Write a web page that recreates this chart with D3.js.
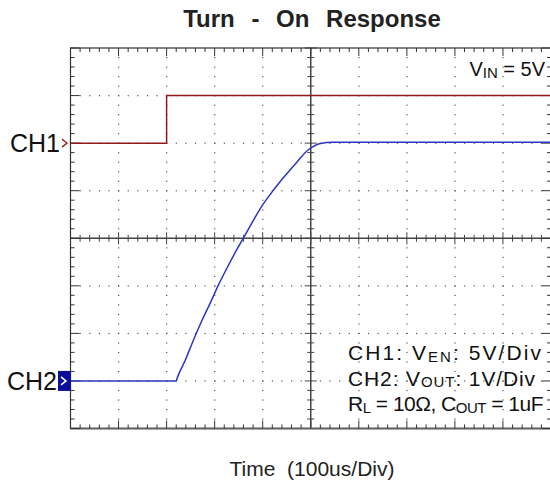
<!DOCTYPE html>
<html>
<head>
<meta charset="utf-8">
<script src="https://cdn.jsdelivr.net/npm/d3@7"></script>
<style>
  body { margin: 0; background: #fff; }
  svg { display: block; font-family: "Liberation Sans", Arial, sans-serif; }
</style>
</head>
<body>
<svg id="chart" width="550" height="485"></svg>
<script>
// scope settings
const title = "Turn - On Response";
const xLabel = "Time  (100us/Div)";
const ch1VoltsPerDiv = 5;
const ch2VoltsPerDiv = 1;
const ch1RefDiv = 2;   // CH1 ground marker, divisions above centre
const ch2RefDiv = -3;  // CH2 ground marker

// CH1: V_EN (time in divisions, volts)
const ch1Time = [0, 2.0, 2.0, 10];
const ch1Volts = [0, 0, 5.0, 5.0];

// CH2: V_OUT (time in divisions, volts)
const ch2Time = [0, 2.2, 2.22, 2.39, 2.56, 2.74, 2.91, 3.08, 3.26, 3.46, 3.63, 3.83, 4.0, 4.2, 4.43, 4.71, 4.95, 5.09, 5.2, 5.46, 10];
const ch2Volts = [0, 0, 0.06, 0.44, 0.86, 1.28, 1.64, 2.02, 2.38, 2.76, 3.06, 3.42, 3.7, 3.98, 4.27, 4.6, 4.86, 4.95, 4.99, 5.02, 5.02];

const svg = d3.select("#chart");

const x = d3.scaleLinear().domain([0, 10]).range([70.5, 551]);
const yDiv = d3.scaleLinear().domain([-4, 4]).range([428.5, 48]);
const y1 = v => yDiv(ch1RefDiv + v / ch1VoltsPerDiv);
const y2 = v => yDiv(ch2RefDiv + v / ch2VoltsPerDiv);

const minorX = d3.range(0, 10.01, 0.2);
const minorY = d3.range(-4, 4.01, 0.2);

// dotted graticule
const grid = svg.append("g").attr("fill", "#555");
d3.range(1, 10).filter(d => d !== 5).forEach(function(d) {
  grid.selectAll(null)
    .data(minorY.slice(1, -1))
    .join("rect")
    .attr("x", x(d) - 0.5).attr("y", v => yDiv(v) - 0.5)
    .attr("width", 1.2).attr("height", 1.2);
});
d3.range(-3, 4).filter(d => d !== 0).forEach(function(d) {
  grid.selectAll(null)
    .data(minorX.slice(1, -1))
    .join("rect")
    .attr("x", v => x(v) - 0.5).attr("y", yDiv(d) - 0.5)
    .attr("width", 1.2).attr("height", 1.2);
});

// centre axes with ticks
const axes = svg.append("g").attr("stroke", "#444").attr("fill", "none");
axes.append("line").attr("x1", x(5)).attr("x2", x(5)).attr("y1", yDiv(-4)).attr("y2", yDiv(4)).attr("stroke-width", 1.5);
axes.append("line").attr("x1", x(0)).attr("x2", x(10)).attr("y1", yDiv(0)).attr("y2", yDiv(0)).attr("stroke-width", 1.5);
const isMajor = v => Math.abs(v - Math.round(v)) < 0.01;
axes.selectAll(null).data(minorY).join("line")
  .attr("x1", v => x(5) - (isMajor(v) ? 6 : 3.5))
  .attr("x2", v => x(5) + (isMajor(v) ? 6 : 3.5))
  .attr("y1", v => yDiv(v)).attr("y2", v => yDiv(v));
axes.selectAll(null).data(minorX).join("line")
  .attr("y1", v => yDiv(0) - (isMajor(v) ? 6 : 3.5))
  .attr("y2", v => yDiv(0) + (isMajor(v) ? 6 : 3.5))
  .attr("x1", v => x(v)).attr("x2", v => x(v));

// border with inward ticks
const border = svg.append("g").attr("stroke", "#333").attr("fill", "none");
border.append("rect")
  .attr("x", x(0)).attr("y", yDiv(4))
  .attr("width", x(10) - x(0)).attr("height", yDiv(-4) - yDiv(4))
  .attr("stroke-width", 1.2);
border.append("line").attr("x1", x(0)).attr("x2", x(10))
  .attr("y1", yDiv(-4)).attr("y2", yDiv(-4)).attr("stroke", "#666").attr("stroke-width", 2);
border.selectAll(null).data(minorX).join("line")
  .attr("x1", v => x(v)).attr("x2", v => x(v))
  .attr("y1", yDiv(4)).attr("y2", v => yDiv(4) + (isMajor(v) ? 8 : 4));
border.selectAll(null).data(minorX).join("line")
  .attr("x1", v => x(v)).attr("x2", v => x(v))
  .attr("y1", yDiv(-4)).attr("y2", v => yDiv(-4) - (isMajor(v) ? 8 : 4));
border.selectAll(null).data(minorY).join("line")
  .attr("y1", v => yDiv(v)).attr("y2", v => yDiv(v))
  .attr("x1", x(0)).attr("x2", v => x(0) + (isMajor(v) ? 9 : 4));
border.selectAll(null).data(minorY).join("line")
  .attr("y1", v => yDiv(v)).attr("y2", v => yDiv(v))
  .attr("x1", x(10)).attr("x2", v => x(10) - (isMajor(v) ? 9 : 4));

// traces
const line1 = d3.line().x((d, i) => x(ch1Time[i])).y(d => y1(d));
const line2 = d3.line().curve(d3.curveMonotoneX).x((d, i) => x(ch2Time[i])).y(d => y2(d));
svg.append("path").datum(ch1Volts).attr("d", line1)
  .attr("fill", "none").attr("stroke", "#8e1b1b").attr("stroke-width", 1.5);
svg.append("path").datum(ch2Volts).attr("d", line2)
  .attr("fill", "none").attr("stroke", "#2a36c4").attr("stroke-width", 1.5);

// channel markers
svg.append("text").attr("x", 60).attr("y", y1(0) + 9)
  .attr("text-anchor", "end").attr("font-size", 25).attr("fill", "#111").text("CH1");
svg.append("path")
  .attr("d", `M${62},${y1(0) - 4}L${67},${y1(0)}L${62},${y1(0) + 4}`)
  .attr("fill", "none").attr("stroke", "#9b2020").attr("stroke-width", 1.3);

svg.append("text").attr("x", 57).attr("y", y2(0) + 9)
  .attr("text-anchor", "end").attr("font-size", 25).attr("fill", "#111").text("CH2");
svg.append("rect").attr("x", 58).attr("y", y2(0) - 10)
  .attr("width", 13).attr("height", 20).attr("fill", "#0d0d9c");
svg.append("path")
  .attr("d", `M${61},${y2(0) - 4}L${66},${y2(0)}L${61},${y2(0) + 4}`)
  .attr("fill", "none").attr("stroke", "#fff").attr("stroke-width", 1.6);

// title and axis label
svg.append("text").attr("x", 312).attr("y", 27)
  .attr("text-anchor", "middle").attr("font-size", 24).attr("font-weight", "bold")
  .attr("word-spacing", 10).attr("fill", "#222").text(title);
svg.append("text").attr("x", 312).attr("y", 476)
  .attr("text-anchor", "middle").attr("font-size", 21).attr("fill", "#222")
  .style("white-space", "pre").text(xLabel);

// annotations with subscripts
function richText(xPos, yPos, parts, size, subSize, anchor, width) {
  const t = svg.append("text").attr("x", xPos).attr("y", yPos)
    .attr("font-size", size).attr("fill", "#111").attr("text-anchor", anchor || "start");
  let lowered = false;
  parts.forEach(function(p) {
    const sub = Array.isArray(p);
    const span = t.append("tspan").text(sub ? p[0] : p);
    if (sub) { span.attr("font-size", subSize).attr("dy", 1.5); lowered = true; }
    else if (lowered) { span.attr("dy", -1.5); lowered = false; }
  });
  if (width) {
    // stretch letter spacing so the line spans the same width as the scope print
    const len = t.node().getComputedTextLength();
    const n = parts.map(p => Array.isArray(p) ? p[0] : p).join("").length;
    t.attr("letter-spacing", (width - len) / n);
  }
  return t;
}
richText(545, 76, ["V", ["IN"], " = 5V"], 20, 15, "end");
richText(348, 360, ["CH1: V", ["EN"], ": 5V/Div"], 21, 15, "start", 195);
richText(348, 385.5, ["CH2: V", ["OUT"], ": 1V/Div"], 21, 15, "start", 188);
richText(348, 411, ["R", ["L"], " = 10\u03A9, C", ["OUT"], " = 1uF"], 21, 15, "start", 195);
</script>
</body>
</html>
